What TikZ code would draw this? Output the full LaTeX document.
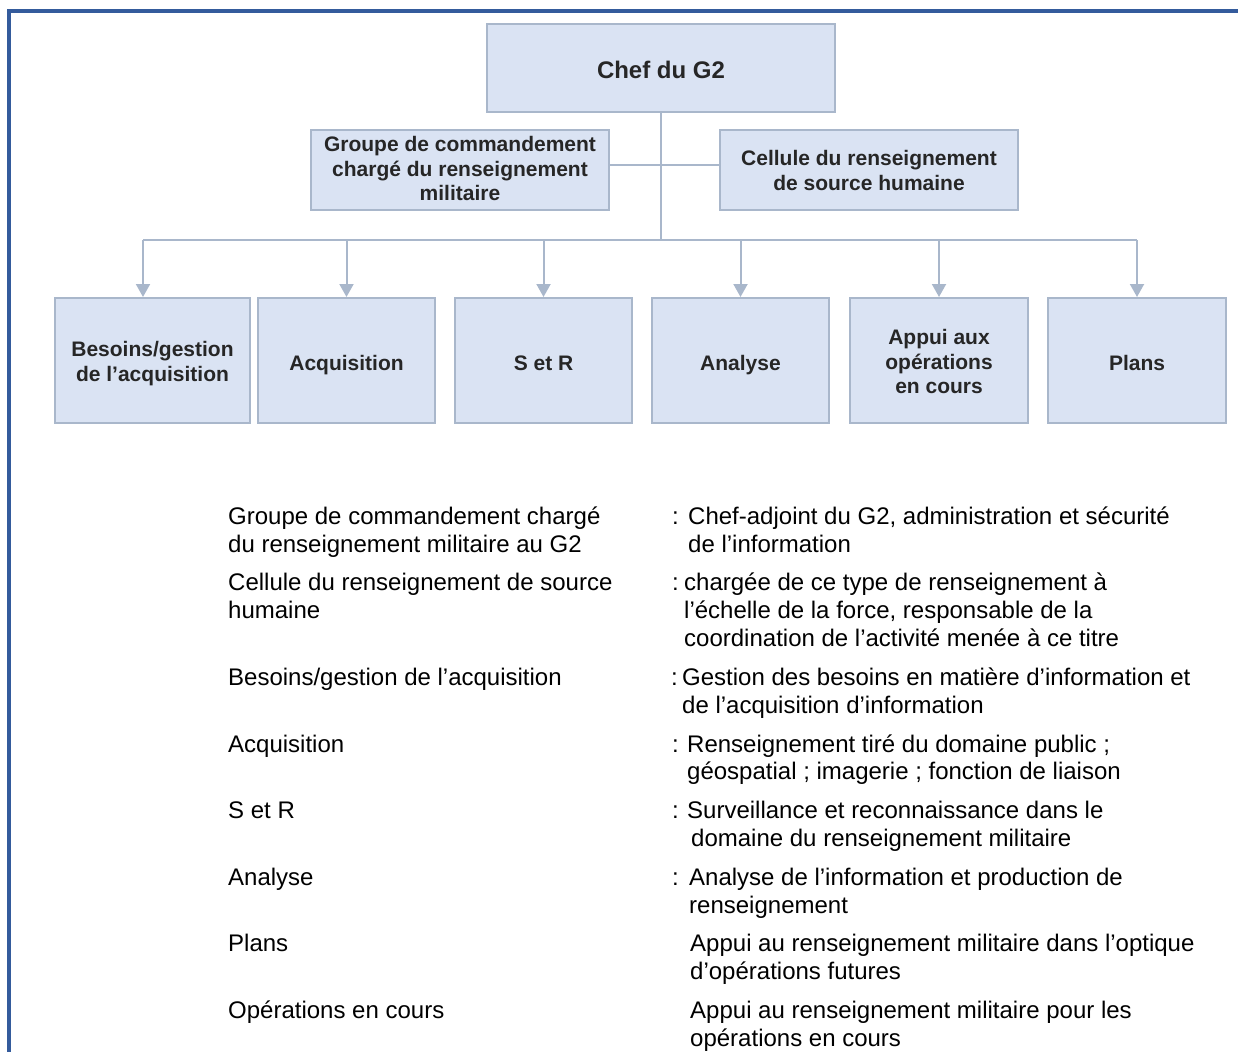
\documentclass[tikz,border=0pt]{standalone}
\usepackage{fontspec}
\setmainfont{Liberation Sans}
\usetikzlibrary{arrows.meta}

\definecolor{frameblue}{HTML}{345B9C}
\definecolor{boxfill}{HTML}{DAE3F3}
\definecolor{boxline}{HTML}{A9B7CB}
\definecolor{boxtext}{HTML}{262626}

\tikzset{
  unit/.style={draw=boxline, line width=2pt, fill=boxfill, inner sep=0pt},
  caption/.style={inner sep=0pt, text=boxtext, align=center,
    font=\fontsize{21}{24.5}\selectfont\bfseries},
  link/.style={draw=boxline, line width=2pt},
  feed/.style={link, -{Triangle[width=14pt,length=13pt]}},
  legend/.style={inner sep=0pt, anchor=base west, text=black,
    font=\fontsize{24}{28}\selectfont},
}

\begin{document}
\begin{tikzpicture}[x=1pt,y=-1pt]
\useasboundingbox (0,0) rectangle (1238,1051);

% outer frame (open towards the right and bottom)
\draw[frameblue, line width=4pt] (1240,11) -- (9,11) -- (9,1053);

% head of the branch and its two staff cells
\node[unit, minimum width=348pt, minimum height=88pt,
  label={[caption, font=\fontsize{24}{28}\selectfont\bfseries, yshift=-2pt]center:Chef du G2}]
  (chef) at (661,68) {};
\node[unit, minimum width=298pt, minimum height=80pt,
  label={[caption, yshift=1.5pt]center:Groupe de commandement\\chargé du renseignement\\militaire}]
  (groupe) at (460,170) {};
\node[unit, minimum width=298pt, minimum height=80pt,
  label={[caption, yshift=-0.5pt]center:Cellule du renseignement\\de source humaine}]
  (cellule) at (869,170) {};

% subordinate sections
\node[unit, minimum width=195pt, minimum height=125pt,
  label={[caption, yshift=-3pt]center:Besoins/gestion\\de l’acquisition}]
  (besoins) at (152.5,360.5) {};
\node[unit, minimum width=177pt, minimum height=125pt,
  label={[caption, yshift=-5pt]center:Acquisition}] (acq) at (346.5,360.5) {};
\node[unit, minimum width=177pt, minimum height=125pt,
  label={[caption, yshift=-3pt]center:S et R}] (sr) at (543.5,360.5) {};
\node[unit, minimum width=177pt, minimum height=125pt,
  label={[caption, yshift=-5pt]center:Analyse}] (ana) at (740.5,360.5) {};
\node[unit, minimum width=178pt, minimum height=125pt,
  label={[caption, yshift=-1pt]center:Appui aux\\opérations\\en cours}] (appui) at (939,360.5) {};
\node[unit, minimum width=178pt, minimum height=125pt,
  label={[caption, yshift=-2.5pt]center:Plans}] (plans) at (1137,360.5) {};

% connectors
\coordinate (busL) at (143,240);
\coordinate (busR) at (1137,240);
\draw[link] (chef.south) -- (chef.south |- busL);
\draw[link] ([yshift=5pt]groupe.east) -- ([yshift=5pt]cellule.west);
\draw[link] (busL) -- (busR);
\draw[feed] (busL) -- (busL |- besoins.north);
\draw[feed] (acq.north |- busL) -- (acq.north);
\draw[feed] (sr.north |- busL) -- (sr.north);
\draw[feed] (ana.north |- busL) -- (ana.north);
\draw[feed] (appui.north |- busL) -- (appui.north);
\draw[feed] (busR) -- (plans.north);

% legend: terms
\foreach \n/\y/\t in {
  a/524/{Groupe de commandement chargé},
  b/552/{du renseignement militaire au G2},
  c/590/{Cellule du renseignement de source},
  d/618/{humaine},
  e/685/{Besoins/gestion de l’acquisition},
  f/752/{Acquisition},
  g/818/{S et R},
  h/885/{Analyse},
  i/951/{Plans},
  j/1018/{Opérations en cours}}
  \node[legend] (term\n) at (228,\y) {\t};

% legend: separators
\foreach \n/\x/\y in {a/672/524, c/672/590, e/671/685, f/672/752, g/672/818, h/672/885}
  \node[legend] (colon\n) at (\x,\y) {:};

% legend: descriptions
\foreach \n/\x/\y/\t in {
  a/688/524/{Chef-adjoint du G2, administration et sécurité},
  b/688/552/{de l’information},
  c/684/590/{chargée de ce type de renseignement à},
  d/684/618/{l’échelle de la force, responsable de la},
  k/684/646/{coordination de l’activité menée à ce titre},
  e/682/685/{Gestion des besoins en matière d’information et},
  l/682/713/{de l’acquisition d’information},
  f/687/752/{Renseignement tiré du domaine public ;},
  m/687/779/{géospatial ; imagerie ; fonction de liaison},
  g/687/818/{Surveillance et reconnaissance dans le},
  n/691/846/{domaine du renseignement militaire},
  h/689/885/{Analyse de l’information et production de},
  o/689/913/{renseignement},
  i/690/951/{Appui au renseignement militaire dans l’optique},
  p/690/979/{d’opérations futures},
  j/690/1018/{Appui au renseignement militaire pour les},
  q/690/1046/{opérations en cours}}
  \node[legend] (desc\n) at (\x,\y) {\t};
\end{tikzpicture}
\end{document}
